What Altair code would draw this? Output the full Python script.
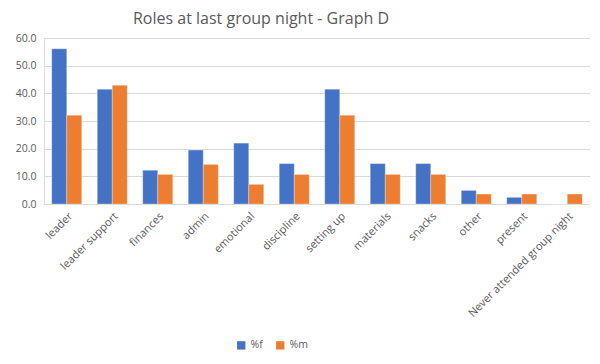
import altair as alt
import pandas as pd

categories = ["leader", "leader support", "finances", "admin", "emotional", "discipline",
              "setting up", "materials", "snacks", "other", "present", "Never attended group night"]
pct_f = [56.1, 41.5, 12.2, 19.5, 22.0, 14.6, 41.5, 14.6, 14.6, 4.9, 2.4, 0.0]
pct_m = [32.1, 42.9, 10.7, 14.3, 7.1, 10.7, 32.1, 10.7, 10.7, 3.6, 3.6, 3.6]
series = ["%f", "%m"]
colors = ["#4472C4", "#ED7D31"]
y_ticks = [0, 10, 20, 30, 40, 50, 60]

rows = []
for c, f, m in zip(categories, pct_f, pct_m):
    rows.append({"cat": c, "series": series[0], "value": f})
    rows.append({"cat": c, "series": series[1], "value": m})
df = pd.DataFrame(rows)

font = "Open Sans"
grey = "#595959"

chart = alt.Chart(df).mark_bar(stroke="white", strokeWidth=0.5, strokeOpacity=0.6).encode(
    x=alt.X("cat:N", sort=categories, title=None,
            scale=alt.Scale(paddingInner=0.34, paddingOuter=0.17),
            axis=alt.Axis(labelAngle=-45, labelFontSize=11, labelColor=grey, labelFont=font,
                          ticks=False, domainColor="#d9d9d9", labelPadding=6)),
    xOffset=alt.XOffset("series:N", sort=series),
    y=alt.Y("value:Q", title=None,
            scale=alt.Scale(domain=[0, 60], nice=False),
            axis=alt.Axis(values=y_ticks, format=".1f", labelFontSize=10.5, labelColor=grey,
                          labelFont=font, ticks=False, domain=False, gridColor="#d9d9d9",
                          labelPadding=8)),
    color=alt.Color("series:N", sort=series,
                    scale=alt.Scale(domain=series, range=colors),
                    legend=alt.Legend(title=None, orient="none", direction="horizontal",
                                      legendX=192, legendY=302, symbolType="square",
                                      symbolSize=70, symbolStrokeWidth=0,
                                      labelFontSize=10.5, labelColor=grey, labelFont=font,
                                      columnPadding=12)),
).properties(
    width=546, height=166,
    title=alt.TitleParams("Roles at last group night - Graph D", font=font, fontSize=16,
                          fontWeight="normal", color=grey, anchor="middle", dx=-56, offset=6),
    autosize=alt.AutoSizeParams(type="none"),
    padding={"left": 36, "top": 30, "right": 0, "bottom": 152},
).configure_view(stroke=None).configure(background="white")

chart.save("out.html", embed_options={"renderer": "svg", "actions": False})
